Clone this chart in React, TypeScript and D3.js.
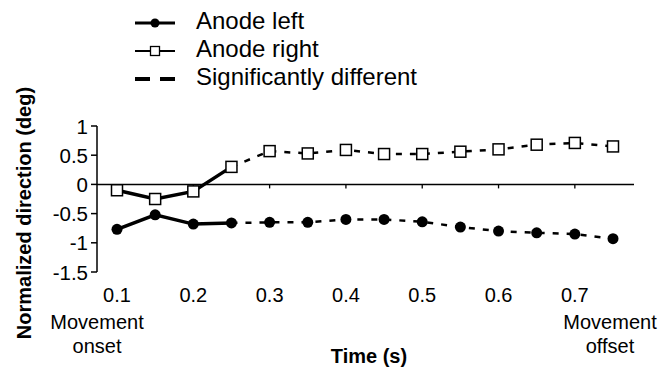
import React from "react";
import * as d3 from "d3";

const times = [0.1, 0.15, 0.2, 0.25, 0.3, 0.35, 0.4, 0.45, 0.5, 0.55, 0.6, 0.65, 0.7, 0.75];
const anodeLeft = [-0.77, -0.52, -0.68, -0.66, -0.65, -0.65, -0.6, -0.6, -0.64, -0.73, -0.8, -0.83, -0.85, -0.93];
const anodeRight = [-0.1, -0.25, -0.12, 0.3, 0.57, 0.53, 0.59, 0.52, 0.52, 0.56, 0.6, 0.68, 0.71, 0.65];
const xTicks = [0.1, 0.2, 0.3, 0.4, 0.5, 0.6, 0.7];
const yTicks = [1, 0.5, 0, -0.5, -1, -1.5];
const solidUntil = 0.25;
const legendItems = ["Anode left", "Anode right", "Significantly different"];

const W = 666;
const H = 372;
const FONT = "'Liberation Sans', Arial, sans-serif";

export default function App() {
  const x = d3.scaleLinear().domain([0.1, 0.75]).range([117, 613]);
  const y = d3.scaleLinear().domain([-1.5, 1]).range([272, 126]);
  const axisX = 97;
  const zeroEnd = 634;

  const line = d3
    .line<[number, number]>()
    .x((d) => x(d[0]))
    .y((d) => y(d[1]));

  const series = [anodeLeft, anodeRight].map((vals) => {
    const pts: [number, number][] = times.map((t, i) => [t, vals[i]]);
    const solid = pts.filter((p) => p[0] <= solidUntil + 1e-9);
    const dashed = pts.filter((p) => p[0] >= solidUntil - 1e-9);
    return { pts, solid, dashed };
  });

  const legendY = [23, 51, 79];

  return (
    <svg
      width={W}
      height={H}
      viewBox={`0 0 ${W} ${H}`}
      style={{ position: "absolute", left: 0, top: 0, background: "#fff" }}
      fontFamily={FONT}
    >
      <rect x={0} y={0} width={W} height={H} fill="#fff" />
      {/* Legend */}
      <g>
        <line x1={135} x2={175} y1={legendY[0]} y2={legendY[0]} stroke="#000" strokeWidth={3} />
        <circle cx={155} cy={legendY[0]} r={4.5} fill="#000" />
        <line x1={135} x2={175} y1={legendY[1]} y2={legendY[1]} stroke="#000" strokeWidth={2} />
        <rect x={150.5} y={legendY[1] - 4.5} width={9} height={9} fill="#fff" stroke="#000" strokeWidth={1.3} />
        <line x1={135} x2={175} y1={legendY[2]} y2={legendY[2]} stroke="#000" strokeWidth={4} strokeDasharray="15,10" />
        {legendItems.map((t, i) => (
          <text key={t} x={196} y={legendY[i] + 6} fontSize={24} fill="#000">
            {t}
          </text>
        ))}
      </g>

      {/* Y axis */}
      <line x1={axisX} x2={axisX} y1={y(1)} y2={y(-1.5)} stroke="#000" strokeWidth={1.5} />
      {yTicks.map((t) => (
        <g key={t}>
          <line x1={axisX - 6} x2={axisX} y1={y(t)} y2={y(t)} stroke="#000" strokeWidth={1.5} />
          <text x={axisX - 9} y={y(t) + 7.5} fontSize={20.5} textAnchor="end" fill="#000">
            {t}
          </text>
        </g>
      ))}

      {/* Zero line with ticks */}
      <line x1={axisX} x2={zeroEnd} y1={y(0)} y2={y(0)} stroke="#000" strokeWidth={1.5} />
      {xTicks.map((t) => (
        <g key={t}>
          <line x1={x(t)} x2={x(t)} y1={y(0)} y2={y(0) + 4} stroke="#000" strokeWidth={1.3} />
          <text x={x(t)} y={302} fontSize={20} textAnchor="middle" fill="#000">
            {t}
          </text>
        </g>
      ))}

      {/* Series lines */}
      {series.map((s, i) => (
        <g key={i}>
          <path d={line(s.solid) || ""} fill="none" stroke="#000" strokeWidth={3.5} />
          <path d={line(s.dashed) || ""} fill="none" stroke="#000" strokeWidth={2.5} strokeDasharray="6,8" />
        </g>
      ))}

      {/* Markers */}
      {series[0].pts.map((p, i) => (
        <circle key={"c" + i} cx={x(p[0])} cy={y(p[1])} r={5.5} fill="#000" />
      ))}
      {series[1].pts.map((p, i) => (
        <rect
          key={"s" + i}
          x={x(p[0]) - 5.5}
          y={y(p[1]) - 5.5}
          width={11}
          height={11}
          fill="#fff"
          stroke="#000"
          strokeWidth={1.5}
        />
      ))}

      {/* Annotations */}
      <text x={97} y={329} fontSize={20} textAnchor="middle" fill="#000">
        Movement
      </text>
      <text x={97} y={353} fontSize={20} textAnchor="middle" fill="#000">
        onset
      </text>
      <text x={610} y={329} fontSize={20} textAnchor="middle" fill="#000">
        Movement
      </text>
      <text x={610} y={353} fontSize={20} textAnchor="middle" fill="#000">
        offset
      </text>

      {/* Axis titles */}
      <text x={369} y={363} fontSize={20} fontWeight="bold" textAnchor="middle" fill="#000">
        Time (s)
      </text>
      <text
        transform={`translate(31, 213) rotate(-90)`}
        fontSize={20}
        fontWeight="bold"
        textAnchor="middle"
        fill="#000"
      >
        Normalized direction (deg)
      </text>
    </svg>
  );
}
